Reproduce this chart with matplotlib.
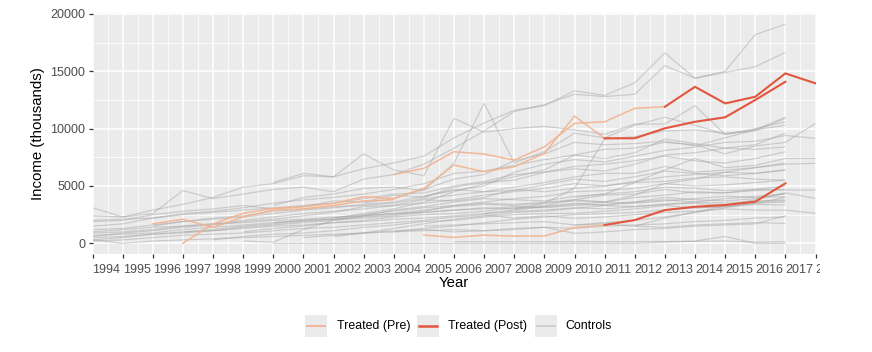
import numpy as np
import matplotlib
matplotlib.use("Agg")
import matplotlib.pyplot as plt
from matplotlib.lines import Line2D
from matplotlib.patches import Rectangle
from matplotlib.transforms import Bbox, TransformedBbox

N = np.nan
years = list(range(1994, 2019))
tick_labels = [str(y) for y in years]

# control units (income, thousands), one value per year 1994..2018
ctrl_01 = [2400,2300,2900,3400,4000,4900,5200,5900,5800,6500,7000,7600,9200,10500,11600,12000,13300,12900,14000,16600,14400,15000,18200,19100,N]
ctrl_02 = [3100,2300,2600,4600,3900,4300,4700,4900,4500,5600,6000,6900,8300,9800,11500,12100,13000,12800,13000,15500,14400,14900,15400,16650,N]
ctrl_03 = [N,N,N,N,N,N,3300,4000,4300,4800,4900,4600,7000,12200,7000,8000,9600,9200,10300,11000,10300,9500,9900,11000,N]
ctrl_04 = [N,N,N,N,N,N,5300,6100,5800,7800,6400,5900,10900,9700,10000,10200,9900,9500,10400,10400,12000,9500,10000,10600,N]
ctrl_05 = [N,N,N,N,N,N,N,N,2200,2600,3000,3600,4500,5200,5800,6400,7700,8200,8300,8800,8600,7800,8500,8800,10460]
ctrl_06 = [N,N,N,N,N,N,N,N,N,N,N,4100,4600,5000,6200,6900,7300,7100,7600,8100,8400,8800,8900,9400,9160]
ctrl_07 = [1500,1700,2200,2600,2800,3100,3500,3800,4000,4300,4700,5200,6100,6300,6800,7300,7700,7400,7900,9100,8700,8300,8600,9600,N]
ctrl_08 = [N,N,N,N,N,N,N,N,N,3500,3900,4700,5600,6000,7200,7800,8800,8600,8700,8900,8500,9200,9900,10300,N]
ctrl_09 = [1900,2000,2500,2800,3000,3300,3000,3200,3700,3600,4200,4000,4900,5300,5500,6200,6500,6300,6900,7700,7900,8300,8200,8400,N]
ctrl_10 = [N,N,N,N,N,N,N,N,N,N,N,N,N,N,N,N,4000,4300,5300,6400,7400,6600,6800,7400,7410]
ctrl_11 = [1200,1300,1600,1900,2100,2300,2600,2900,3100,3400,3600,4100,4700,4500,4900,5300,5800,6100,6100,6700,6200,6400,6600,6900,6980]
ctrl_12 = [N,N,1500,1900,2200,2400,2800,3000,3200,3300,3500,3900,4200,4500,4600,5100,5600,5400,5800,6300,6100,5900,6100,6400,N]
ctrl_13 = [600,900,1100,1400,1600,1900,2100,2400,2700,3200,3300,3800,3700,4000,4700,4500,4800,5000,5300,5400,5700,5800,5600,5500,N]
ctrl_14 = [N,N,N,N,N,N,1800,2000,2100,2400,2900,3200,3600,3900,3800,3700,4100,4300,4500,4900,4800,4600,4700,5000,N]
ctrl_15 = [700,800,900,1200,1400,1600,1800,2000,2200,2500,2800,3100,3300,3500,3400,3600,3800,4200,4300,4700,4400,4400,4600,4650,4650]
ctrl_16 = [N,N,N,N,N,N,N,N,N,N,N,N,N,N,N,N,N,N,1500,2200,2700,3300,3800,4400,3920]
ctrl_17 = [300,500,800,1000,1100,1400,1600,1800,2000,2200,2400,2700,2900,3100,3000,3200,3500,3300,3600,4000,3800,3700,3900,4360,N]
ctrl_18 = [N,N,N,N,N,1000,1300,1500,1800,2000,2300,2500,2600,2800,3100,3300,3800,3600,3500,3700,3900,4100,4000,4060,N]
ctrl_19 = [N,N,N,N,N,N,N,N,600,900,1300,1700,2100,2400,2700,2800,3050,3300,3200,3400,3600,3500,3700,3780,N]
ctrl_20 = [N,N,N,N,300,600,800,900,1100,1400,1600,1900,2000,2300,2500,2600,2620,2800,3000,3300,3100,3200,3400,3340,N]
ctrl_21 = [200,300,500,700,800,900,1100,1300,1400,1600,1800,2000,2300,2500,2200,2400,2180,2300,2500,2700,2800,3000,2900,2900,2620]
ctrl_22 = [N,N,N,N,N,N,N,N,N,N,N,N,N,N,N,N,1600,1800,2000,2300,2700,3100,3500,4000,N]
ctrl_23 = [N,N,N,N,N,N,N,N,N,N,N,1500,1600,1700,1800,1900,1600,1700,1500,1400,1600,1700,1800,1740,N]
ctrl_24 = [N,N,N,N,N,N,N,500,700,900,1100,1200,1000,1100,1200,1400,870,1000,1200,1300,1500,1600,1700,2400,N]
ctrl_25 = [N,N,N,N,N,N,N,N,N,N,N,N,140,140,140,140,140,140,150,160,170,200,100,140,N]
ctrl_26 = [N,N,N,N,N,N,0,0,0,0,0,0,0,0,0,0,0,0,0,100,200,600,0,0,N]
ctrl_27 = [300,0,200,300,400,500,600,700,800,900,1000,1100,1200,1100,1300,1400,1300,1500,1600,1700,1900,2000,2200,2300,N]
ctrl_28 = [N,N,N,N,N,200,100,1200,2000,2400,2600,2900,3200,3400,3300,3500,3700,3600,4000,4200,4500,4400,4700,4700,N]
ctrl_29 = [N,N,N,N,N,N,N,N,N,N,N,N,N,N,3000,3500,4800,9100,9300,9800,9900,9600,9800,10900,N]
ctrl_30 = [2000,2100,2200,2500,2700,2900,3100,3300,3500,3900,4300,4400,5000,5400,6000,6200,6700,6900,7200,7600,7200,7000,7400,7990,N]
ctrl_31 = [N,N,N,1000,1200,1500,1700,1900,2100,2300,2500,2800,3300,3600,3900,4100,4500,4600,4800,5200,5000,5100,5300,5520,N]
ctrl_32 = [900,1000,1200,1500,1700,2000,2300,2600,2800,3000,3300,3500,3800,4200,4500,4800,5200,5000,5400,5800,6000,6200,6100,6390,N]
ctrl_33 = [1000,1200,1400,1500,1700,1800,2000,2100,2300,2400,2600,2700,2900,3000,3200,3100,3300,3400,3600,3800,3600,3900,4100,4300,N]
ctrl_34 = [N,N,N,N,N,N,N,N,N,N,1000,1300,1500,1800,2100,2300,2500,2600,2700,2900,3100,3200,3500,3600,N]
ctrl_35 = [500,600,800,900,1100,1300,1500,1600,1800,1900,2100,2200,2400,2600,2800,2900,3100,3000,3200,3400,3500,3300,3600,3700,N]
ctrl_36 = [N,N,N,N,N,N,N,N,N,N,N,N,N,2600,2900,3200,3400,3600,4200,5200,5600,6200,6600,7000,N]

controls = [ctrl_01, ctrl_02, ctrl_03, ctrl_04, ctrl_05, ctrl_06, ctrl_07, ctrl_08,
            ctrl_09, ctrl_10, ctrl_11, ctrl_12, ctrl_13, ctrl_14, ctrl_15, ctrl_16,
            ctrl_17, ctrl_18, ctrl_19, ctrl_20, ctrl_21, ctrl_22, ctrl_23, ctrl_24,
            ctrl_25, ctrl_26, ctrl_27, ctrl_28, ctrl_29, ctrl_30, ctrl_31, ctrl_32,
            ctrl_33, ctrl_34, ctrl_35, ctrl_36]

# treated units: pre-treatment and post-treatment segments
treatA_pre  = [N,N,N,N,N,N,N,N,N,N,6000,6540,7990,7790,7260,8420,10460,10600,11770,11910,N,N,N,N,N]
treatA_post = [N,N,N,N,N,N,N,N,N,N,N,N,N,N,N,N,N,N,N,11910,13650,12200,12780,14820,13950]
treatB_pre  = [N,N,N,0,1700,2620,3050,3190,3490,4060,3920,4800,6830,6250,6680,7850,11100,9160,N,N,N,N,N,N,N]
treatB_post = [N,N,N,N,N,N,N,N,N,N,N,N,N,N,N,N,N,9160,9160,10030,10600,10990,12500,14090,N]
treatC_pre  = [N,N,N,N,N,N,N,N,N,N,N,720,520,720,630,640,1380,1600,N,N,N,N,N,N,N]
treatC_post = [N,N,N,N,N,N,N,N,N,N,N,N,N,N,N,N,N,1600,2030,2900,3190,3340,3630,5230,N]
treatD_pre  = [N,N,1700,2100,1400,2300,2900,3000,3300,3700,3800,N,N,N,N,N,N,N,N,N,N,N,N,N,N]

treated_pre = [treatA_pre, treatB_pre, treatC_pre, treatD_pre]
treated_post = [treatA_post, treatB_post, treatC_post]

legend_labels = ["Treated (Pre)", "Treated (Post)", "Controls"]

FONT = "Liberation Sans"
plt.rcParams["font.family"] = [FONT, "DejaVu Sans"]

W, H = 872, 352
fig = plt.figure(figsize=(W / 100, H / 100), dpi=100)
fig.patch.set_facecolor("white")

left_px, right_px, top_px, bot_px = 92.5, 815.5, 13.1, 254.3
ax = fig.add_axes([left_px / W, 1 - bot_px / H, (right_px - left_px) / W, (bot_px - top_px) / H])
ax.set_facecolor("#EBEBEB")
for s in ax.spines.values():
    s.set_visible(False)

ctrl_color = "#A3A3A3"
pre_color = "#F3B28E"
post_color = "#E2563E"

for c in controls:
    ax.plot(years, c, color=ctrl_color, alpha=0.45, lw=0.9, zorder=3, solid_capstyle="butt")
for t in treated_pre:
    ax.plot(years, t, color=pre_color, alpha=0.9, lw=1.1, zorder=4)
for t in treated_post:
    ax.plot(years, t, color=post_color, lw=1.5, zorder=5)

ax.set_xlim(1994, 2018)
ax.set_ylim(-956, 20076)
ax.set_xticks(years)
ax.set_xticklabels(tick_labels, ha="left")
ax.set_xticks([y + 0.5 for y in years[:-1]], minor=True)
ax.set_yticks([0, 5000, 10000, 15000, 20000])
ax.set_yticks([2500, 7500, 12500, 17500], minor=True)
ax.grid(which="major", color="white", lw=1.1, zorder=0)
ax.grid(which="minor", color="white", lw=0.55, zorder=0)
ax.set_axisbelow(True)
ax.tick_params(axis="both", which="major", length=2.8, width=0.9, color="#333333",
               labelsize=9.0, labelcolor="#4D4D4D", pad=2.5)
ax.tick_params(axis="both", which="minor", length=0)
ax.tick_params(axis="x", pad=4)

clip = TransformedBbox(Bbox([[0, 0], [820 / W, 1]]), fig.transFigure)
for lab in ax.get_xticklabels():
    lab.set_clip_box(clip)
    lab.set_clip_on(True)

fig.text(38 / W, 1 - 134 / H, "Income (thousands)", rotation=90, ha="center", va="center",
         fontsize=10.8, color="black")
fig.text(454 / W, 1 - 283 / H, "Year", ha="center", va="center", fontsize=10.8, color="black")

# legend (manual, ggplot-like keys with grey background)
ly = 1 - 326 / H
keys = [(305, pre_color, 0.9, 1.1), (416.5, post_color, 1.0, 1.5), (534.5, ctrl_color, 0.45, 0.9)]
text_x = [336.5, 448, 565]
for (kx, col, al, lw), tx, lab in zip(keys, text_x, legend_labels):
    fig.add_artist(Rectangle((kx / W, 1 - 337 / H), 22 / W, 22 / H, transform=fig.transFigure,
                             facecolor="#EBEBEB", edgecolor="none"))
    fig.add_artist(Line2D([(kx + 2) / W, (kx + 20) / W], [ly, ly], transform=fig.transFigure,
                          color=col, alpha=al, lw=lw + 0.3))
    fig.text(tx / W, ly, lab, ha="left", va="center", fontsize=8.9, color="black")

fig.savefig("out.png", dpi=100, facecolor="white")
